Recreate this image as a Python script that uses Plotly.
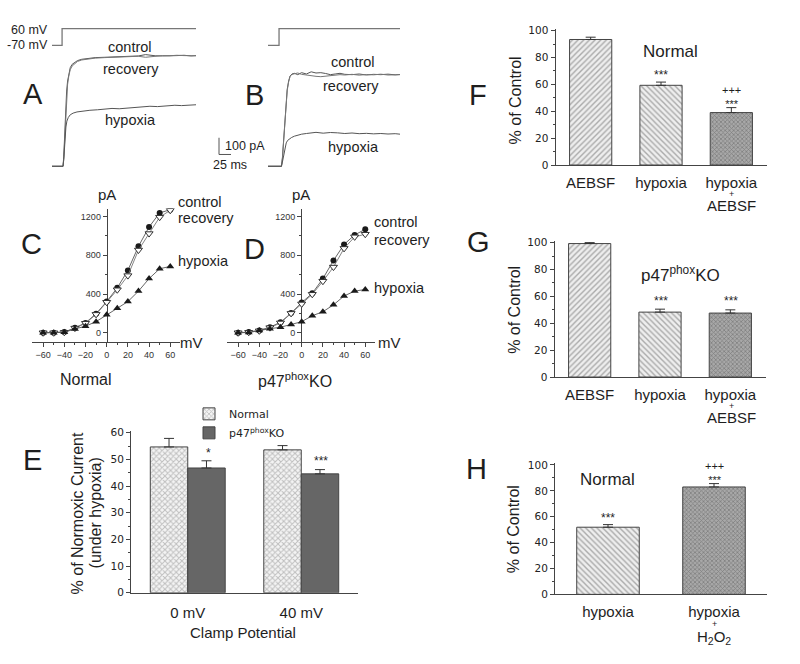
import plotly.graph_objects as go

W, H = 800, 664
FONT = "Liberation Sans, Arial, sans-serif"
FONT2 = "DejaVu Sans, sans-serif"
TXT = "#1e1e1e"


def px(x):
    return x / W


def py(y):
    return 1 - y / H


# ---------------- DATA ----------------
# Panel A: current traces (time ms, current pA)
a_t_ctrl = [0, 23, 24.5, 26, 27.5, 29, 30.5, 32.5, 35, 38, 42, 47, 53, 62, 75, 90, 110, 130, 150,
            165, 180, 195, 205, 215, 230, 245, 260, 275, 290, 300]
a_i_ctrl = [0, 0, 60, 170, 300, 390, 450, 510, 555, 590, 610, 622, 632, 640, 646, 650, 652, 654, 655,
            658, 660, 668, 664, 661, 660, 663, 662, 664, 660, 662]
a_i_reco = [0, 0, 45, 140, 260, 355, 425, 490, 540, 578, 600, 615, 627, 636, 642, 647, 650, 652, 653,
            656, 658, 652, 655, 660, 662, 661, 664, 662, 663, 661]
a_t_hyp = [0, 23, 24.5, 26, 27.5, 29, 31, 34, 38, 44, 52, 62, 79, 95, 110, 125, 140, 162, 180, 195,
           204, 220, 240, 256, 270, 285, 300]
a_i_hyp = [0, 0, 40, 110, 180, 235, 270, 292, 308, 318, 325, 330, 335, 338, 341, 346, 344, 350, 352,
           356, 359, 357, 362, 365, 363, 366, 368]
a_t_volt = [0, 21, 21, 300]
a_v_volt = [-70, -70, 60, 60]

# Panel B
b_t_ctrl = [0, 28, 30, 32, 34, 36, 38, 40, 43, 46, 50, 55, 62, 70, 80, 90, 100, 110, 120, 130, 140,
            150, 160, 175, 190, 205, 220, 235, 250, 265, 275]
b_i_ctrl = [0, 0, 50, 140, 230, 320, 400, 460, 510, 540, 552, 556, 548, 560, 552, 565, 558, 560, 555,
            548, 552, 556, 550, 548, 552, 546, 550, 548, 551, 547, 549]
b_i_reco = [0, 0, 45, 130, 220, 310, 390, 452, 505, 538, 550, 553, 558, 550, 545, 540, 538, 536, 540,
            542, 545, 548, 546, 550, 545, 549, 547, 551, 546, 549, 548]
b_t_hyp = [0, 28, 30, 32, 34, 36, 38, 41, 45, 49, 55, 62, 70, 80, 88, 100, 115, 130, 145, 160, 175,
           190, 205, 220, 235, 250, 265, 275]
b_i_hyp = [0, 0, 25, 60, 95, 120, 140, 155, 165, 172, 180, 186, 192, 196, 200, 203, 198, 202, 200,
           196, 199, 195, 197, 194, 196, 193, 195, 192]
b_t_volt = [0, 23, 23, 275]
b_v_volt = [-70, -70, 60, 60]

# Panels C, D: I-V curves
iv_mv = [-60, -50, -40, -30, -20, -10, 0, 10, 20, 30, 40, 50, 60]
c_control = [0, 0, 7, 51, 102, 197, 322, 464, 644, 892, 1092, 1237, 1271]
c_recovery = [0, 0, 5, 48, 98, 190, 315, 444, 590, 854, 1024, 1193, 1264]
c_hypoxia = [0, 0, 5, 40, 68, 115, 186, 254, 322, 430, 559, 661, 685]
d_control = [0, 7, 24, 58, 108, 203, 312, 407, 559, 746, 912, 1010, 1068]
d_recovery = [0, 5, 20, 53, 102, 200, 298, 397, 532, 678, 871, 990, 1017]
d_hypoxia = [0, 3, 24, 41, 58, 85, 115, 176, 217, 288, 380, 430, 447]

# Panel E
e_cats = ["0 mV", "40 mV"]
e_normal = [54.7, 53.6]
e_normal_err = [3.2, 1.6]
e_ko = [46.8, 44.6]
e_ko_err = [2.7, 1.6]

# Panel F
f_cats = ["AEBSF", "hypoxia", "hypoxia+AEBSF"]
f_ticktext = ["AEBSF", "hypoxia", "hypoxia"]
f_vals = [93.4, 59.3, 39.0]
f_err = [1.7, 2.4, 3.7]

# Panel G
g_cats = ["AEBSF", "hypoxia", "hypoxia+AEBSF"]
g_ticktext = ["AEBSF", "hypoxia", "hypoxia"]
g_vals = [99.3, 48.3, 47.6]
g_err = [0.7, 2.2, 2.4]

# Panel H
h_cats = ["hypoxia", "hypoxia+H2O2"]
h_ticktext = ["hypoxia", "hypoxia"]
h_vals = [51.9, 83.0]
h_err = [2.0, 2.6]

# ---------------- FIGURE ----------------
fig = go.Figure()


def line_trace(x, y, xa, ya, color="#555555", width=1):
    return go.Scatter(x=x, y=y, xaxis=xa, yaxis=ya, mode="lines",
                      line=dict(color=color, width=width), showlegend=False, hoverinfo="skip")


# A
fig.add_trace(line_trace(a_t_volt, a_v_volt, "x", "y2", "#777777", 1.3))
fig.add_trace(line_trace(a_t_ctrl, a_i_ctrl, "x", "y"))
fig.add_trace(line_trace(a_t_ctrl, a_i_reco, "x", "y", "#777777"))
fig.add_trace(line_trace(a_t_hyp, a_i_hyp, "x", "y"))
# B
fig.add_trace(line_trace(b_t_volt, b_v_volt, "x2", "y4", "#777777", 1.3))
fig.add_trace(line_trace(b_t_ctrl, b_i_ctrl, "x2", "y3"))
fig.add_trace(line_trace(b_t_ctrl, b_i_reco, "x2", "y3", "#777777"))
fig.add_trace(line_trace(b_t_hyp, b_i_hyp, "x2", "y3"))


def iv_traces(ctrl, reco, hyp, xa, ya):
    out = []
    out.append(go.Scatter(x=iv_mv, y=ctrl, xaxis=xa, yaxis=ya, mode="lines+markers",
                          line=dict(color="#555555", width=0.9),
                          marker=dict(symbol="circle", size=6, color="#1a1a1a"),
                          showlegend=False))
    out.append(go.Scatter(x=iv_mv, y=reco, xaxis=xa, yaxis=ya, mode="lines+markers",
                          line=dict(color="#777777", width=0.9),
                          marker=dict(symbol="triangle-down", size=7, color="white",
                                      line=dict(color="#333333", width=1)),
                          showlegend=False))
    out.append(go.Scatter(x=iv_mv, y=hyp, xaxis=xa, yaxis=ya, mode="lines+markers",
                          line=dict(color="#555555", width=0.9),
                          marker=dict(symbol="triangle-up", size=7, color="#1a1a1a"),
                          showlegend=False))
    return out


for t in iv_traces(c_control, c_recovery, c_hypoxia, "x3", "y5"):
    fig.add_trace(t)
for t in iv_traces(d_control, d_recovery, d_hypoxia, "x4", "y6"):
    fig.add_trace(t)

ERR = dict(type="data", symmetric=False, color="#333333", thickness=1, width=5)

# E
fig.add_trace(go.Bar(x=e_cats, y=e_normal, xaxis="x5", yaxis="y7", name="Normal",
                     offset=-0.33, width=0.33,
                     error_y=dict(ERR, array=e_normal_err, arrayminus=[0, 0]),
                     marker=dict(color="white", line=dict(color="#444444", width=1),
                                 pattern=dict(shape="x", fgcolor="#8a8a8a", bgcolor="#f4f4f4",
                                              size=4, solidity=0.45))))
fig.add_trace(go.Bar(x=e_cats, y=e_ko, xaxis="x5", yaxis="y7", name="p47<sup>phox</sup>KO",
                     offset=0, width=0.33,
                     error_y=dict(ERR, array=e_ko_err, arrayminus=[0, 0]),
                     marker=dict(color="#666666", line=dict(color="#444444", width=1))))

PAT_F = dict(shape=["/", "\\", "x"], fgcolor=["#666666", "#666666", "#555555"],
             bgcolor=["#eeeeee", "#eeeeee", "#a8a8a8"], size=[4, 4, 3], solidity=[0.35, 0.35, 0.45])

fig.add_trace(go.Bar(x=f_cats, y=f_vals, xaxis="x6", yaxis="y8", width=0.6, showlegend=False,
                     error_y=dict(ERR, array=f_err, arrayminus=[0, 0, 0]),
                     marker=dict(color="white", line=dict(color="#444444", width=1), pattern=PAT_F)))
fig.add_trace(go.Bar(x=g_cats, y=g_vals, xaxis="x7", yaxis="y9", width=0.6, showlegend=False,
                     error_y=dict(ERR, array=g_err, arrayminus=[0, 0, 0]),
                     marker=dict(color="white", line=dict(color="#444444", width=1), pattern=PAT_F)))
fig.add_trace(go.Bar(x=h_cats, y=h_vals, xaxis="x8", yaxis="y10", width=0.59, showlegend=False,
                     error_y=dict(ERR, array=h_err, arrayminus=[0, 0]),
                     marker=dict(color="white", line=dict(color="#444444", width=1),
                                 pattern=dict(shape=["\\", "x"], fgcolor=["#666666", "#555555"],
                                              bgcolor=["#eeeeee", "#a8a8a8"], size=[4, 3],
                                              solidity=[0.35, 0.45]))))

# ---------------- AXES ----------------
HID = dict(visible=False, showgrid=False, zeroline=False, fixedrange=True)

layout_axes = {}
# A
layout_axes["xaxis"] = dict(HID, domain=[px(52), px(196)], range=[0, 300], anchor="y")
layout_axes["yaxis"] = dict(HID, domain=[py(170), py(45)], range=[-35.3, 700], anchor="x")
layout_axes["yaxis2"] = dict(HID, domain=[py(45), py(20)], range=[-100.6, 90.6], anchor="x")
# B
layout_axes["xaxis2"] = dict(HID, domain=[px(268), px(400)], range=[0, 275], anchor="y3")
layout_axes["yaxis3"] = dict(HID, domain=[py(170), py(45)], range=[-35.3, 700], anchor="x2")
layout_axes["yaxis4"] = dict(HID, domain=[py(45), py(20)], range=[-100.6, 90.6], anchor="x2")

TICKF_SMALL = dict(family=FONT, size=9, color="#333333")


def iv_axes(xdom, yaxpos, yname):
    xa = dict(domain=xdom, range=[-70.5, 69.2], anchor=yname, showline=True, linecolor="#444444",
              linewidth=1, ticks="outside", ticklen=4, tickcolor="#444444",
              tickvals=[-60, -40, -20, 0, 20, 40, 60], tickfont=TICKF_SMALL,
              minor=dict(tickvals=[-50, -30, -10, 10, 30, 50], ticks="outside", ticklen=2,
                         tickcolor="#444444"),
              showgrid=False, zeroline=False, layer="below traces")
    ya = dict(domain=[py(343), py(207)], range=[-98.5, 1282], anchor="free", position=yaxpos,
              showline=True, linecolor="#444444", linewidth=1, ticks="outside", ticklen=4,
              tickcolor="#444444", tickvals=[0, 400, 800, 1200], tickfont=TICKF_SMALL,
              minor=dict(tickvals=[200, 600, 1000], ticks="outside", ticklen=2, tickcolor="#444444"),
              showgrid=False, zeroline=False, layer="below traces")
    return xa, ya


layout_axes["xaxis3"], layout_axes["yaxis5"] = iv_axes([px(32), px(180)], px(106.7), "y5")
layout_axes["xaxis4"], layout_axes["yaxis6"] = iv_axes([px(227), px(375)], px(301), "y6")

TICKF_BAR = dict(family=FONT2, size=10.5, color="#222222")
CATF = dict(family=FONT, size=15, color=TXT)


def bar_axes(xdom, ydom, yrange, yname, xname, cats, ticktext, major, minor_vals, standoff):
    xa = dict(domain=xdom, anchor=yname, type="category", categoryorder="array", categoryarray=cats,
              range=[-0.5, len(cats) - 0.5], tickvals=cats, ticktext=ticktext, tickfont=CATF,
              showline=True, linecolor="#444444", linewidth=1, ticks="", showgrid=False,
              zeroline=False, ticklabelstandoff=standoff)
    ya = dict(domain=ydom, anchor=xname, range=yrange, tickvals=major, tickfont=TICKF_BAR,
              showline=True, linecolor="#444444", linewidth=1, ticks="outside", ticklen=4,
              tickcolor="#444444",
              minor=dict(tickvals=minor_vals, ticks="outside", ticklen=2, tickcolor="#444444"),
              showgrid=False, zeroline=False)
    return xa, ya


layout_axes["xaxis5"], layout_axes["yaxis7"] = bar_axes(
    [px(131), px(358)], [py(597.7), py(433)], [0, 60.74], "y7", "x5", e_cats, e_cats,
    [0, 10, 20, 30, 40, 50, 60], [5, 15, 25, 35, 45, 55], 6)
layout_axes["xaxis6"], layout_axes["yaxis8"] = bar_axes(
    [px(555.5), px(766.5)], [py(162.7), py(24)], [0, 101.5], "y8", "x6", f_cats, f_ticktext,
    [0, 20, 40, 60, 80, 100], [10, 30, 50, 70, 90], 4)
layout_axes["xaxis7"], layout_axes["yaxis9"] = bar_axes(
    [px(554.5), px(765.5)], [py(378.3), py(240)], [0, 101.2], "y9", "x7", g_cats, g_ticktext,
    [0, 20, 40, 60, 80, 100], [10, 30, 50, 70, 90], 4)
layout_axes["xaxis8"], layout_axes["yaxis10"] = bar_axes(
    [px(555), px(767)], [py(599.3), py(466)], [0, 101.3], "y10", "x8", h_cats, h_ticktext,
    [0, 20, 40, 60, 80, 100], [10, 30, 50, 70, 90], 4)

# ---------------- ANNOTATIONS ----------------
ann = []


def A(text, x, y, size=15, xanchor="center", yanchor="middle", angle=0, family=FONT, color=TXT):
    ann.append(dict(text=text, x=px(x), y=py(y), xref="paper", yref="paper", showarrow=False,
                    xanchor=xanchor, yanchor=yanchor, textangle=angle,
                    font=dict(family=family, size=size, color=color)))


# panel letters
for letter, lx, ly in [("A", 33, 91), ("B", 255, 92), ("C", 31, 243), ("D", 255, 248),
                       ("E", 32, 463), ("F", 478, 92), ("G", 478, 241), ("H", 477, 472)]:
    A(letter, lx, ly, size=29)

# A / B
A("60 mV", 50, 25, 12.5, xanchor="right")
A("-70 mV", 50, 41, 12.5, xanchor="right")
A("control", 130, 43, 14.5)
A("recovery", 131, 65, 14.5)
A("hypoxia", 130, 117, 14.5)
A("control", 353, 58, 14.5)
A("recovery", 351, 82, 14.5)
A("hypoxia", 353, 144, 14.5)
A("100 pA", 223, 143, 12.5, xanchor="left")
A("25 ms", 211, 163, 12.5, xanchor="left")

# C / D
A("pA", 106.7, 193, 15)
A("mV", 191, 343, 15)
A("control", 176, 200, 14.5, xanchor="left")
A("recovery", 176, 216.5, 14.5, xanchor="left")
A("hypoxia", 176, 260, 14.5, xanchor="left")
A("Normal", 86, 381, 16)
A("pA", 301, 193, 15)
A("mV", 389, 343, 15)
A("control", 372, 221, 14.5, xanchor="left")
A("recovery", 372, 239, 14.5, xanchor="left")
A("hypoxia", 372, 288, 14.5, xanchor="left")
A("p47<sup>phox</sup>KO", 295, 381, 16)

# E
A("% of Normoxic Current", 77, 517, 16, angle=-90)
A("(under hypoxia)", 95, 517, 16, angle=-90)
A("Clamp Potential", 243, 638, 15)
A("*", 208, 456, 12)
A("***", 321, 464, 12)

# F
A("% of Control", 515, 97, 16, angle=-90)
A("Normal", 670, 47, 17)
A("***", 661, 71, 12)
A("+++<br>***", 731, 94, 11)
A("+", 731, 192.5, 9)
A("AEBSF", 731, 204, 15)

# G
A("% of Control", 515, 310, 16, angle=-90)
A("p47<sup>phox</sup>KO", 680, 274, 17)
A("***", 661, 301, 12)
A("***", 731, 301, 12)
A("+", 731, 407.5, 9)
A("AEBSF", 731, 419, 15)

# H
A("% of Control", 513, 533, 16, angle=-90)
A("Normal", 607, 482, 17)
A("***", 608, 522, 12)
A("+++<br>***", 714, 476, 11)
A("+", 714, 629.5, 9)
A("H<sub>2</sub>O<sub>2</sub>", 714, 643, 15)

shapes = [
    dict(type="line", xref="paper", yref="paper", x0=px(219), x1=px(219), y0=py(135), y1=py(152),
         line=dict(color="#555555", width=1)),
    dict(type="line", xref="paper", yref="paper", x0=px(219), x1=px(231), y0=py(152), y1=py(152),
         line=dict(color="#555555", width=1)),
]

fig.update_layout(
    width=W, height=H, margin=dict(l=0, r=0, t=0, b=0),
    paper_bgcolor="white", plot_bgcolor="white",
    font=dict(family=FONT, color=TXT),
    showlegend=True,
    legend=dict(x=px(189), y=py(401), xanchor="left", yanchor="top",
                font=dict(family=FONT2, size=11, color=TXT), bgcolor="rgba(0,0,0,0)",
                tracegroupgap=0, itemwidth=30),
    annotations=ann, shapes=shapes,
    **layout_axes,
)

fig.write_html("out.html", config={"displayModeBar": False},
               post_script="document.body.style.margin='0px';")
